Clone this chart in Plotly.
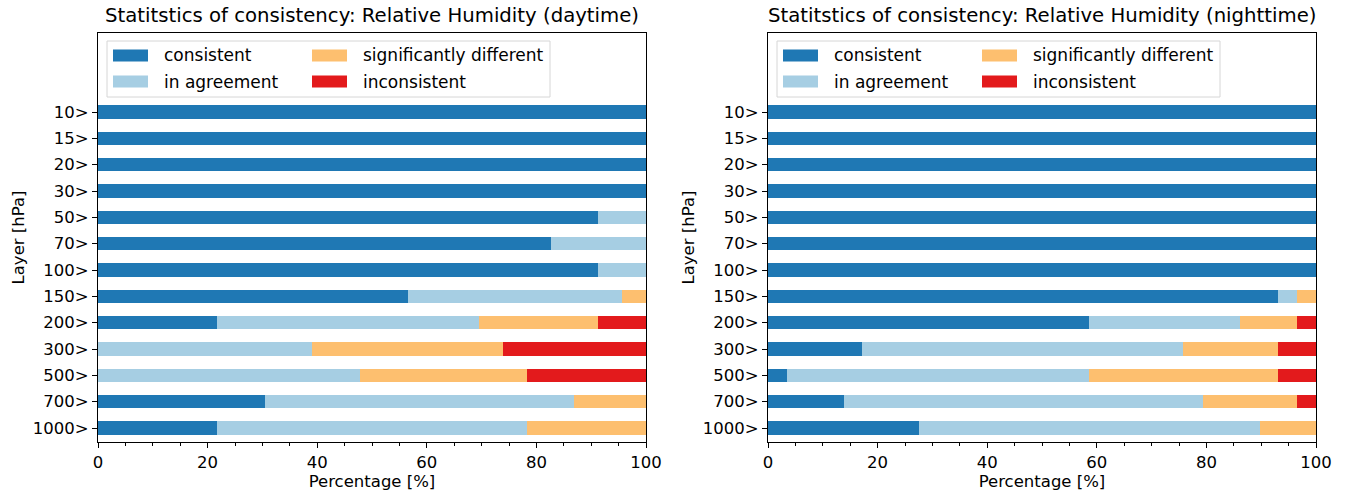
import plotly.graph_objects as go

layers = ["10>", "15>", "20>", "30>", "50>", "70>", "100>", "150>", "200>", "300>", "500>", "700>", "1000>"]
categories = ["consistent", "in agreement", "significantly different", "inconsistent"]
colors = ["#1f78b4", "#a6cee3", "#fdbf6f", "#e31a1c"]

# daytime (percent)
day_consistent = [100, 100, 100, 100, 91.3, 82.6, 91.3, 56.5, 21.7, 0, 0, 30.4, 21.7]
day_agreement = [0, 0, 0, 0, 8.7, 17.4, 8.7, 39.1, 47.8, 39.1, 47.8, 56.5, 56.5]
day_sigdiff = [0, 0, 0, 0, 0, 0, 0, 4.4, 21.7, 34.8, 30.4, 13.1, 21.8]
day_inconsistent = [0, 0, 0, 0, 0, 0, 0, 0, 8.8, 26.1, 21.8, 0, 0]

# nighttime (percent)
night_consistent = [100, 100, 100, 100, 100, 100, 100, 93.1, 58.6, 17.2, 3.4, 13.8, 27.6]
night_agreement = [0, 0, 0, 0, 0, 0, 0, 3.4, 27.6, 58.6, 55.2, 65.5, 62.1]
night_sigdiff = [0, 0, 0, 0, 0, 0, 0, 3.5, 10.4, 17.3, 34.5, 17.3, 10.3]
night_inconsistent = [0, 0, 0, 0, 0, 0, 0, 0, 3.4, 6.9, 6.9, 3.4, 0]

titles = ["Statitstics of consistency: Relative Humidity (daytime)",
          "Statitstics of consistency: Relative Humidity (nighttime)"]

FONT = "DejaVu Sans"
W, H = 1349, 493
ypos = list(range(len(layers) - 1, -1, -1))  # 10> at top

panels = [
    (day_consistent, day_agreement, day_sigdiff, day_inconsistent),
    (night_consistent, night_agreement, night_sigdiff, night_inconsistent),
]

fig = go.Figure()
for p, series in enumerate(panels):
    xa = "x" if p == 0 else "x2"
    ya = "y" if p == 0 else "y2"
    for i, vals in enumerate(series):
        fig.add_trace(go.Bar(
            y=ypos, x=vals, orientation="h", name=categories[i],
            marker=dict(color=colors[i], line=dict(width=0)),
            width=0.5, xaxis=xa, yaxis=ya, showlegend=False,
        ))

# axes frames in pixels
left_px = [98, 646]
right_px = [768, 1316]
top_px, bot_px = 33, 442


def px(x):
    return x / W


def py(y):
    return 1 - y / H


dom_left = [px(left_px[0]), px(left_px[1])]
dom_right = [px(right_px[0]), px(right_px[1])]
dom_y = [py(bot_px), py(top_px)]

tickfont = dict(family=FONT, size=16.5, color="#000")
xcommon = dict(range=[0, 100], tickvals=[0, 20, 40, 60, 80, 100], ticks="outside",
               ticklen=5, tickwidth=1, tickcolor="#000", showline=True, linecolor="#000",
               linewidth=1, mirror=True, showgrid=False, zeroline=False, automargin=False,
               minor=dict(tickvals=[v for v in range(5, 100, 5) if v % 20], ticks="outside",
                          ticklen=3, tickcolor="#000"),
               tickfont=tickfont,
               title=dict(text="Percentage [%]", font=dict(family=FONT, size=16.5, color="#000"), standoff=2))
ycommon = dict(range=[-0.53, 15.0], tickvals=ypos, ticktext=layers, ticks="outside",
               ticklen=5, tickwidth=1, tickcolor="#000", showline=True, linecolor="#000",
               linewidth=1, mirror=True, showgrid=False, zeroline=False, automargin=False,
               tickfont=tickfont,
               title=dict(text="Layer [hPa]", font=dict(family=FONT, size=16.5, color="#000"), standoff=4))

fig.update_layout(
    width=W, height=H, barmode="stack", bargap=0,
    paper_bgcolor="white", plot_bgcolor="white",
    margin=dict(l=0, r=0, t=0, b=0, autoexpand=False),
    font=dict(family=FONT, size=16, color="#000"),
    xaxis=dict(domain=dom_left, anchor="y", **xcommon),
    yaxis=dict(domain=dom_y, anchor="x", **ycommon),
    xaxis2=dict(domain=dom_right, anchor="y2", **xcommon),
    yaxis2=dict(domain=dom_y, anchor="x2", **ycommon),
    showlegend=False,
)

# titles
for p, ax in enumerate([left_px, right_px]):
    fig.add_annotation(text=titles[p], xref="paper", yref="paper",
                       x=px((ax[0] + ax[1]) / 2), y=py(top_px - 4),
                       xanchor="center", yanchor="bottom", showarrow=False,
                       font=dict(family=FONT, size=19.7, color="#000"))

# legends (matplotlib-style box, two columns)
col_off = [0, 199]
row_y = [55.5, 81.5]
order = [(0, 0), (0, 1), (1, 0), (1, 1)]  # (column, row) of each category
for ax in [left_px, right_px]:
    bx0, bx1 = ax[0] + 9, ax[0] + 452
    fig.add_shape(type="rect", xref="paper", yref="paper",
                  x0=px(bx0), x1=px(bx1), y0=py(97), y1=py(41),
                  line=dict(color="#d6d6d6", width=1), fillcolor="rgba(255,255,255,0.85)",
                  layer="above")
    for i, name in enumerate(categories):
        c, r = order[i]
        sx0 = ax[0] + 15 + col_off[c]
        fig.add_shape(type="rect", xref="paper", yref="paper",
                      x0=px(sx0), x1=px(sx0 + 35), y0=py(row_y[r] + 6), y1=py(row_y[r] - 6),
                      line=dict(width=0), fillcolor=colors[i], layer="above")
        fig.add_annotation(text=name, xref="paper", yref="paper",
                           x=px(sx0 + 49), y=py(row_y[r]), xanchor="left", yanchor="middle",
                           showarrow=False, font=dict(family=FONT, size=17, color="#000"))

fig.write_html("out.html", config={"displayModeBar": False},
               post_script="document.body.style.margin='0';")
